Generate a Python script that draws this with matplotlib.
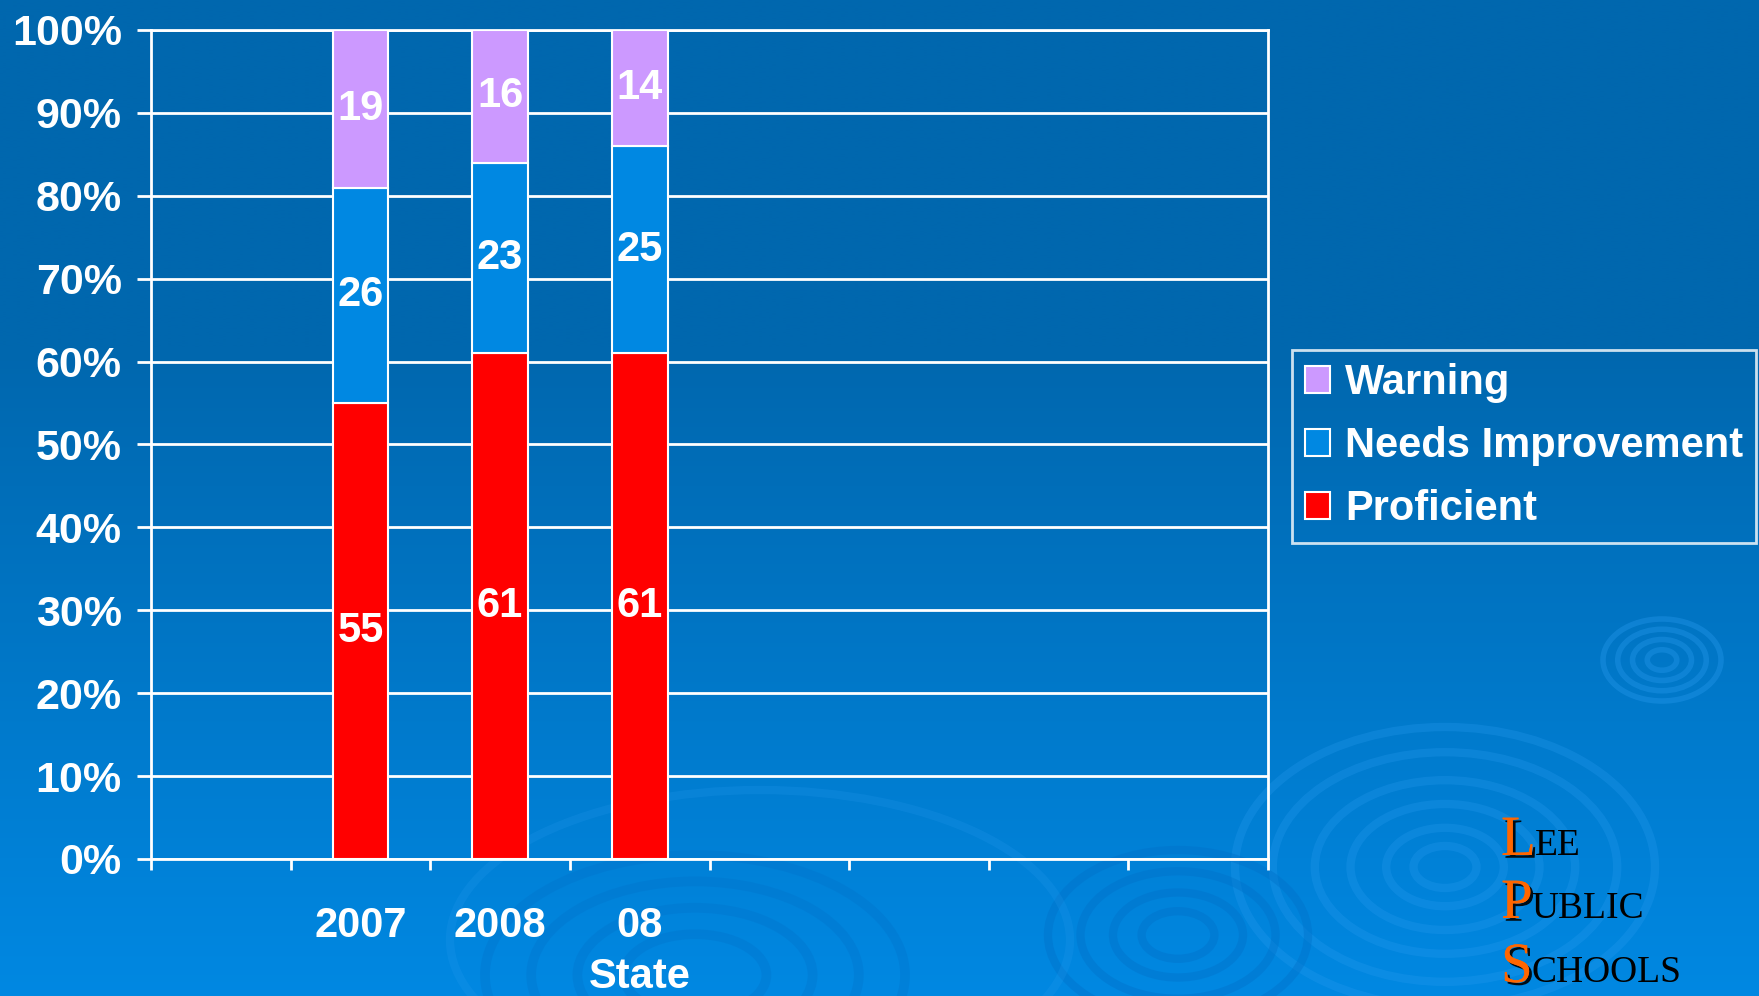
import matplotlib.pyplot as plt
import matplotlib.patheffects as pe
from matplotlib.patches import Ellipse
import numpy as np

# Chart data (percent of students)
categories = ['2007', '2008', '08\nState']
proficient = [55, 61, 61]
needs_improvement = [26, 23, 25]
warning = [19, 16, 14]
y_ticks = [0, 10, 20, 30, 40, 50, 60, 70, 80, 90, 100]

n_slots = 8  # category slots on the axis, only 3 are used
first_slot = 1

plt.rcParams['font.family'] = ['Liberation Sans', 'DejaVu Sans']
plt.rcParams['font.weight'] = 'bold'

W, H = 1759, 996
fig = plt.figure(figsize=(W / 100, H / 100), dpi=100)

# Background gradient + ripples
bg = fig.add_axes([0, 0, 1, 1], zorder=-10)
yy = np.linspace(0, 1, 400)
t = np.clip((yy - 0.35) / 0.65, 0, 1)
top = np.array([0x00, 0x67, 0xAE]) / 255
bot = np.array([0x00, 0x88, 0xE2]) / 255
grad = top[None, :] * (1 - t[:, None]) + bot[None, :] * t[:, None]
grad = np.repeat(grad[:, None, :], 2, axis=1)
bg.imshow(grad, extent=(0, W, H, 0), aspect='auto', interpolation='bilinear')
bg.set_xlim(0, W)
bg.set_ylim(H, 0)
bg.axis('off')

def ripple(cx, cy, w, h, fracs, color, alpha, lw):
    for f in fracs:
        bg.add_patch(Ellipse((cx, cy), w * f, h * f, fill=False, edgecolor=color, alpha=alpha, lw=lw))

ripple(1445, 867, 420, 280, [1.0, 0.82, 0.62, 0.45, 0.28, 0.15], '#2a9cf0', 0.28, 6)
ripple(1662, 660, 118, 82, [1.0, 0.75, 0.5, 0.25], '#2a9cf0', 0.35, 4)
ripple(1178, 935, 260, 170, [1.0, 0.75, 0.5, 0.28], '#0070c8', 0.4, 6)
ripple(695, 975, 420, 240, [1.0, 0.78, 0.56, 0.34], '#0070c8', 0.3, 7)
ripple(760, 940, 620, 300, [1.0], '#2a9cf0', 0.2, 6)

# Main chart
ax = fig.add_axes([151 / W, 1 - 859 / H, (1268 - 151) / W, (859 - 30) / H])
ax.set_facecolor('none')

x = np.arange(len(categories)) + first_slot
p = np.array(proficient) / 100
n = np.array(needs_improvement) / 100
w = np.array(warning) / 100

b1 = ax.bar(x, p, 0.4, color='#ff0000', edgecolor='white', lw=1.5, label='Proficient', zorder=3)
b2 = ax.bar(x, n, 0.4, bottom=p, color='#0088e2', edgecolor='white', lw=1.5, label='Needs Improvement', zorder=3)
b3 = ax.bar(x, w, 0.4, bottom=p + n, color='#cc99ff', edgecolor='white', lw=1.5, label='Warning', zorder=3)
for bars, vals in [(b1, proficient), (b2, needs_improvement), (b3, warning)]:
    ax.bar_label(bars, labels=[str(v) for v in vals], label_type='center', color='white',
                 fontsize=30, fontweight='bold')

ax.set_xlim(-0.5, n_slots - 0.5)
ax.set_ylim(0, 1)
ax.set_yticks([v / 100 for v in y_ticks])
ax.set_yticklabels(['{}%'.format(v) for v in y_ticks])
ax.tick_params(axis='y', colors='white', labelsize=31, length=10, width=2, pad=11)
ax.yaxis.grid(True, color='white', lw=2, zorder=1)
ax.set_axisbelow(True)

ax.set_xticks(np.arange(n_slots + 1) - 0.5)
ax.set_xticklabels([])
ax.tick_params(axis='x', which='major', colors='white', length=8, width=2)
ax.set_xticks(x, minor=True)
ax.set_xticklabels(categories, minor=True, linespacing=1.35)
ax.tick_params(axis='x', which='minor', length=0, labelsize=30, labelcolor='white', pad=34)
for s in ax.spines.values():
    s.set_color('white')
    s.set_linewidth(2)

handles = [b3, b2, b1]
leg = fig.legend(handles, [h.get_label() for h in handles], loc='upper left',
                 bbox_to_anchor=(1292 / W, 1 - 350 / H), bbox_transform=fig.transFigure,
                 fontsize=30, frameon=True, fancybox=False, handlelength=0.6, handleheight=0.6,
                 handletextpad=0.35, labelspacing=0.55, borderpad=0.32, borderaxespad=0)
leg.get_frame().set_edgecolor('white')
leg.get_frame().set_facecolor('none')
leg.get_frame().set_linewidth(2)
for txt in leg.get_texts():
    txt.set_color('white')

# Logo: LEE PUBLIC SCHOOLS in small caps
shadow = [pe.withSimplePatchShadow(offset=(2, -2), shadow_rgbFace='black', alpha=0.9), pe.Normal()]
fig.canvas.draw()
renderer = fig.canvas.get_renderer()
for word, yb in [('Lee', 855), ('Public', 918), ('Schools', 982)]:
    big = fig.text(1501 / W, 1 - yb / H, word[0], fontsize=41, color='#ff6600',
                   family='Liberation Serif', fontweight='normal', va='baseline', path_effects=shadow)
    bb = big.get_window_extent(renderer)
    fig.text((bb.x1 - 1) / W, 1 - yb / H, word[1:].upper(), fontsize=27, color='black',
             family='Liberation Serif', fontweight='normal', va='baseline')

fig.savefig('out.png', dpi=100)
